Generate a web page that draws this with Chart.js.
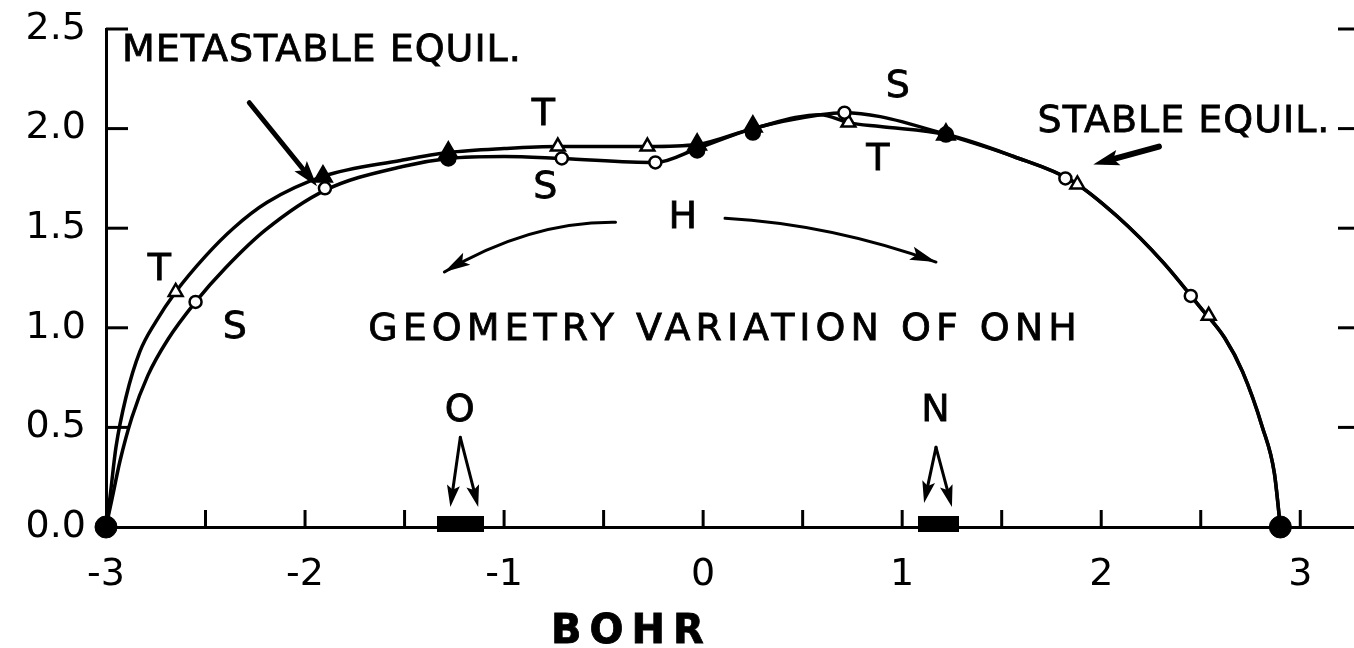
<!DOCTYPE html>
<html>
<head>
<meta charset="utf-8">
<script src="https://cdn.jsdelivr.net/npm/chart.js@4"></script>
<style>
  html, body { margin: 0; padding: 0; background: #fff; }
  #contenedor { width: 1354px; height: 648px; }
</style>
</head>
<body>
<div id="contenedor"><canvas id="graficoONH"></canvas></div>
<script>
const lineaT_x = [-3.00, -2.98, -2.95, -2.90, -2.83, -2.75, -2.65, -2.50, -2.36, -2.19, -1.91, -1.52, -1.28, -1.00, -0.73, -0.28, -0.03, 0.25, 0.59, 0.73, 0.89, 1.22, 1.56, 1.85, 2.08, 2.31, 2.50, 2.62, 2.71, 2.81, 2.87, 2.90];
const lineaT_y = [0.00, 0.15, 0.40, 0.65, 0.88, 1.03, 1.18, 1.36, 1.50, 1.63, 1.76, 1.84, 1.88, 1.90, 1.91, 1.91, 1.92, 2.00, 2.07, 2.03, 2.01, 1.97, 1.86, 1.74, 1.56, 1.33, 1.10, 0.95, 0.78, 0.50, 0.27, 0.00];

// Curva S (circulos)
const lineaS_x = [-3.00, -2.97, -2.93, -2.87, -2.79, -2.69, -2.55, -2.40, -2.20, -1.90, -1.51, -1.28, -1.00, -0.71, -0.24, -0.03, 0.25, 0.59, 0.71, 0.89, 1.22, 1.56, 1.85, 2.08, 2.31, 2.50, 2.62, 2.71, 2.81, 2.87, 2.90];
const lineaS_y = [0.00, 0.14, 0.33, 0.55, 0.76, 0.94, 1.13, 1.30, 1.49, 1.69, 1.81, 1.85, 1.86, 1.85, 1.83, 1.90, 2.00, 2.07, 2.08, 2.06, 1.97, 1.86, 1.74, 1.56, 1.33, 1.10, 0.95, 0.78, 0.50, 0.27, 0.00];

// Marcas
const marcasT_x = [-2.65, -1.91, -1.28, -0.73, -0.28, -0.03, 0.25, 0.73, 1.22, 1.88, 2.54];
const marcasT_y = [1.18, 1.76, 1.88, 1.91, 1.91, 1.92, 2.01, 2.03, 1.97, 1.72, 1.06];
const marcasT_llenas = [false, true, true, false, false, true, true, false, true, false, false];

const marcasS_x = [-2.55, -1.90, -1.28, -0.71, -0.24, -0.03, 0.25, 0.71, 1.22, 1.82, 2.45];
const marcasS_y = [1.13, 1.70, 1.85, 1.85, 1.83, 1.89, 1.98, 2.08, 1.97, 1.75, 1.16];
const marcasS_llenas = [false, false, true, false, false, true, true, false, true, false, false];

const extremos_x = [-3.00, 2.90];
const extremos_y = [0, 0];

const atomos = ['O', 'N'];
const atomos_x = [-1.22, 1.18];
const atomos_y = [0, 0];

const etiquetasX = [-3, -2, -1, 0, 1, 2, 3];
const etiquetasY = [0, 0.5, 1.0, 1.5, 2.0, 2.5];
const tituloX = 'BOHR';

// textos y flechas (en coordenadas de datos)
const rotulos = [
    { texto: 'METASTABLE EQUIL.', x: -2.92, y: 2.39, alinear: 'left' },
    { texto: 'STABLE EQUIL.', x: 1.68, y: 2.03, alinear: 'left' },
    { texto: 'T', x: -2.73, y: 1.29 },
    { texto: 'S', x: -2.35, y: 1.00 },
    { texto: 'T', x: -0.80, y: 2.07 },
    { texto: 'S', x: -0.79, y: 1.70 },
    { texto: 'S', x: 0.98, y: 2.21 },
    { texto: 'T', x: 0.88, y: 1.84 },
    { texto: 'H', x: -0.10, y: 1.55 },
    { texto: 'GEOMETRY VARIATION OF ONH', x: 0.11, y: 0.99, espacio: '5px' },
    { texto: 'O', x: -1.22, y: 0.58 },
    { texto: 'N', x: 1.17, y: 0.58 },
    { texto: tituloX, x: -0.36, y: -0.53, espacio: '8px', negrita: true, tam: 40 }
];
const flechasRectas = [
    [-2.28, 2.13, -1.94, 1.71, 5],
    [2.29, 1.91, 1.96, 1.82, 6],
    [-1.22, 0.45, -1.27, 0.10, 3],
    [-1.22, 0.45, -1.13, 0.10, 3],
    [1.17, 0.40, 1.11, 0.12, 3],
    [1.17, 0.40, 1.25, 0.10, 3]
];
const flechasCurvas = [
    [-0.44, 1.53, -0.87, 1.47, -1.30, 1.28],
    [0.11, 1.55, 0.64, 1.48, 1.17, 1.33]
];

const pares = (xs, ys) => xs.map((x, i) => ({ x: x, y: ys[i] }));
const fuente = '"DejaVu Sans", sans-serif';

function bloqueAtomo(ancho) {
    const c = document.createElement('canvas');
    c.width = ancho; c.height = 22;
    const g = c.getContext('2d');
    g.fillStyle = '#000';
    g.fillRect(0, 0, ancho, 16);
    return c;
}

function cabeza(ctx, x, y, ang, largo, ancho) {
    ctx.save();
    ctx.translate(x, y);
    ctx.rotate(ang);
    ctx.beginPath();
    ctx.moveTo(0, 0);
    ctx.lineTo(-largo, -ancho / 2);
    ctx.lineTo(-largo * 0.8, 0);
    ctx.lineTo(-largo, ancho / 2);
    ctx.closePath();
    ctx.fill();
    ctx.restore();
}

const pluginAnotaciones = {
    id: 'anotaciones',
    beforeDatasetsDraw(chart) {
        // marcas interiores de los ejes
        const { ctx, chartArea } = chart;
        const sx = chart.scales.x, sy = chart.scales.y;
        ctx.save();
        ctx.strokeStyle = '#000';
        ctx.lineWidth = 3;
        const y0 = sy.getPixelForValue(0);
        const xIzq = sx.getPixelForValue(-3);
        sx.ticks.forEach(t => {
            if (t.value <= -3) return;
            const px = sx.getPixelForValue(t.value);
            ctx.beginPath(); ctx.moveTo(px, y0); ctx.lineTo(px, y0 - 17); ctx.stroke();
        });
        sy.ticks.forEach(t => {
            if (t.value <= 0) return;
            const py = sy.getPixelForValue(t.value);
            ctx.beginPath(); ctx.moveTo(xIzq, py); ctx.lineTo(xIzq + 22, py); ctx.stroke();
            ctx.beginPath(); ctx.moveTo(chartArea.right - 16, py); ctx.lineTo(chartArea.right, py); ctx.stroke();
        });
        ctx.restore();
    },
    afterDraw(chart) {
        const ctx = chart.ctx;
        const sx = chart.scales.x, sy = chart.scales.y;
        const px = v => sx.getPixelForValue(v);
        const py = v => sy.getPixelForValue(v);
        ctx.save();
        ctx.fillStyle = '#000';
        ctx.strokeStyle = '#000';
        ctx.textBaseline = 'middle';
        rotulos.forEach(r => {
            ctx.font = (r.negrita ? 'bold ' : '') + (r.tam || 38) + 'px ' + fuente;
            ctx.letterSpacing = r.espacio || '1px';
            ctx.textAlign = r.alinear || 'center';
            ctx.lineWidth = 0.8;
            ctx.fillText(r.texto, px(r.x), py(r.y));
            ctx.strokeText(r.texto, px(r.x), py(r.y));
        });
        ctx.letterSpacing = '0px';
        ctx.lineCap = 'round';
        flechasRectas.forEach(f => {
            const x0 = px(f[0]), y0 = py(f[1]), x1 = px(f[2]), y1 = py(f[3]);
            const ang = Math.atan2(y1 - y0, x1 - x0);
            const grande = f[4] > 4;
            ctx.lineWidth = f[4];
            ctx.beginPath();
            ctx.moveTo(x0, y0);
            ctx.lineTo(x1 - Math.cos(ang) * 12, y1 - Math.sin(ang) * 12);
            ctx.stroke();
            cabeza(ctx, x1, y1, ang, grande ? 26 : 22, grande ? 16 : 13);
        });
        flechasCurvas.forEach(f => {
            const x0 = px(f[0]), y0 = py(f[1]), xm = px(f[2]), ym = py(f[3]), x1 = px(f[4]), y1 = py(f[5]);
            const cx = 2 * xm - (x0 + x1) / 2, cy = 2 * ym - (y0 + y1) / 2;
            ctx.lineWidth = 3;
            ctx.beginPath();
            ctx.moveTo(x0, y0);
            ctx.quadraticCurveTo(cx, cy, x1, y1);
            ctx.stroke();
            cabeza(ctx, x1, y1, Math.atan2(y1 - cy, x1 - cx), 26, 14);
        });
        ctx.restore();
    }
};

const ctxONH = document.getElementById('graficoONH').getContext('2d');

new Chart(ctxONH, {
    type: 'scatter',
    data: {
        datasets: [
            {
                label: 'T',
                data: pares(marcasT_x, marcasT_y),
                pointStyle: 'triangle',
                pointRadius: marcasT_llenas.map(f => f ? 10 : 8),
                pointBackgroundColor: marcasT_llenas.map(f => f ? '#000' : '#fff'),
                pointBorderColor: '#000',
                pointBorderWidth: 2.5,
                showLine: false,
                clip: false,
                order: 1
            },
            {
                label: 'S',
                data: pares(marcasS_x, marcasS_y),
                pointStyle: 'circle',
                pointRadius: marcasS_llenas.map(f => f ? 7 : 6),
                pointBackgroundColor: marcasS_llenas.map(f => f ? '#000' : '#fff'),
                pointBorderColor: '#000',
                pointBorderWidth: 2.5,
                showLine: false,
                clip: false,
                order: 0
            },
            {
                label: 'extremos',
                data: pares(extremos_x, extremos_y),
                pointStyle: 'circle',
                pointRadius: 11,
                pointBackgroundColor: '#000',
                pointBorderColor: '#000',
                showLine: false,
                clip: false,
                order: 0
            },
            {
                label: 'atomos',
                data: pares(atomos_x, atomos_y),
                pointStyle: [bloqueAtomo(47), bloqueAtomo(41)],
                showLine: false,
                clip: false,
                order: 0
            },
            {
                label: 'curva T',
                data: pares(lineaT_x, lineaT_y),
                showLine: true,
                borderColor: '#000',
                borderWidth: 3.5,
                pointRadius: 0,
                cubicInterpolationMode: 'monotone',
                clip: false,
                order: 3
            },
            {
                label: 'curva S',
                data: pares(lineaS_x, lineaS_y),
                showLine: true,
                borderColor: '#000',
                borderWidth: 3.5,
                pointRadius: 0,
                cubicInterpolationMode: 'monotone',
                clip: false,
                order: 3
            }
        ]
    },
    options: {
        responsive: true,
        maintainAspectRatio: false,
        animation: false,
        layout: { autoPadding: false, padding: { top: 29, right: 0, left: 0, bottom: 0 } },
        plugins: {
            legend: { display: false },
            tooltip: { enabled: false }
        },
        scales: {
            x: {
                type: 'linear',
                min: -3,
                max: 3.27,
                afterFit(scale) {
                    scale.height = 121;
                    scale.paddingLeft = 0;
                    scale.paddingRight = 0;
                },
                border: { display: true, color: '#000', width: 3 },
                grid: { drawOnChartArea: false, drawTicks: false },
                ticks: {
                    stepSize: 0.5,
                    includeBounds: false,
                    autoSkip: false,
                    maxRotation: 0,
                    padding: 25,
                    color: '#000',
                    font: { family: fuente, size: 38 },
                    callback: v => etiquetasX.includes(v) ? String(v) : ''
                },
                title: { display: false, text: tituloX }
            },
            y: {
                type: 'linear',
                min: 0,
                max: 2.5,
                afterFit(scale) {
                    scale.width = 106;
                    scale.paddingTop = 0;
                    scale.paddingBottom = 0;
                },
                border: { display: true, color: '#000', width: 3 },
                grid: { drawOnChartArea: false, drawTicks: false },
                ticks: {
                    stepSize: 0.5,
                    padding: 20,
                    color: '#000',
                    font: { family: fuente, size: 38 },
                    callback: v => etiquetasY.includes(v) ? v.toFixed(1) : ''
                }
            }
        }
    },
    plugins: [pluginAnotaciones]
});
</script>
</body>
</html>
